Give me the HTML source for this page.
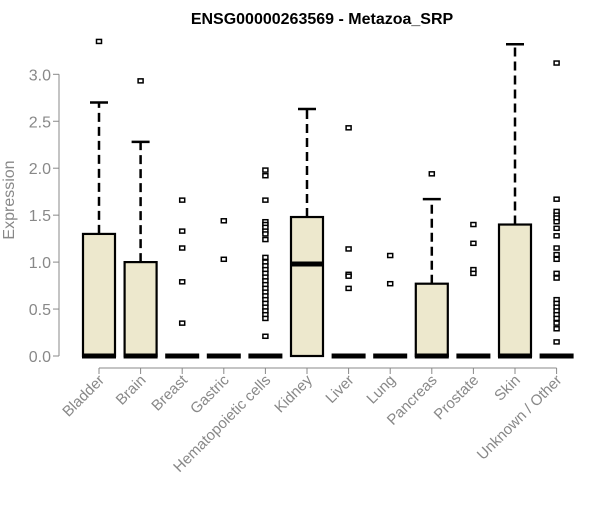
<!DOCTYPE html>
<html><head><meta charset="utf-8"><style>
body{margin:0;background:#fff;}
svg text{font-family:"Liberation Sans",Arial,sans-serif;}
</style></head><body>
<svg id="chart" width="600" height="500" xmlns="http://www.w3.org/2000/svg">
<text x="322" y="24" text-anchor="middle" font-size="16" font-weight="bold">ENSG00000263569 - Metazoa_SRP</text>
<text transform="translate(14,200) rotate(-90)" text-anchor="middle" font-size="16" fill="#888">Expression</text>
<g id="axes"></g><g id="marks"></g>
</svg>
<script>
const categories=["Bladder","Brain","Breast","Gastric","Hematopoietic cells","Kidney","Liver","Lung","Pancreas","Prostate","Skin","Unknown / Other"];
const q1=[0,0,0,0,0,0,0,0,0,0,0,0];
const medians=[0,0,0,0,0,0.98,0,0,0,0,0,0];
const q3=[1.3,1.0,0,0,0,1.48,0,0,0.77,0,1.40,0];
const whiskerHigh=[2.7,2.28,0,0,0,2.63,0,0,1.67,0,3.32,0];
const outliers=[[3.35],[2.93],[1.66,1.33,1.15,0.79,0.35],[1.44,1.03],
[1.98,1.92,1.66,1.43,1.40,1.37,1.33,1.30,1.24,1.05,1.0,0.96,0.92,0.88,0.84,0.80,0.76,0.72,0.68,0.64,0.60,0.56,0.52,0.48,0.44,0.40,0.21],
[],[2.43,1.14,0.87,0.85,0.72],[1.07,0.77],[1.94],[1.40,1.20,0.92,0.88],[],
[3.12,1.67,1.54,1.50,1.47,1.43,1.36,1.28,1.15,1.08,1.03,0.88,0.83,0.60,0.56,0.52,0.48,0.44,0.40,0.35,0.29,0.15]];
const yTicks=[0,0.5,1.0,1.5,2.0,2.5,3.0];
const NS="http://www.w3.org/2000/svg";
const y=v=>356-v*93.9;
const x=i=>99+i*41.6;
function mk(p,t,a){const e=document.createElementNS(NS,t);for(const k in a)e.setAttribute(k,a[k]);p.appendChild(e);return e;}
const ax=document.getElementById('axes'),mg=document.getElementById('marks');
let l=mk(ax,'line',{x1:59,x2:59,y1:y(0),y2:y(3),stroke:'#888'});


yTicks.forEach(t=>{
 mk(ax,'line',{x1:53,x2:59,y1:y(t),y2:y(t),stroke:'#888'});
 const tx=mk(ax,'text',{x:51,y:y(t)+6,'text-anchor':'end','font-size':16,fill:'#888'});
 tx.textContent=t.toFixed(1);
 
 
});
l=mk(ax,'line',{x1:x(0),x2:x(categories.length-1),y1:368,y2:368,stroke:'#888'});


categories.forEach((c,i)=>{
 const cx=x(i);
 mk(ax,'line',{x1:cx,x2:cx,y1:368,y2:374,stroke:'#888'});
 const tx=mk(ax,'text',{transform:`translate(${cx+6},${381}) rotate(-45)`,'text-anchor':'end','font-size':15,fill:'#888'});
 tx.textContent=c;
 
 
 const g=mk(mg,'g',{});
 
 
 if(whiskerHigh[i]>q3[i]){
  mk(g,'line',{x1:cx,x2:cx,y1:y(q3[i]),y2:y(whiskerHigh[i]),stroke:'#000','stroke-width':2.5,'stroke-dasharray':'9,5'});
  mk(g,'line',{x1:cx-9,x2:cx+9,y1:y(whiskerHigh[i]),y2:y(whiskerHigh[i]),stroke:'#000','stroke-width':2.5});
 }
 const h=y(q1[i])-y(q3[i]);
 if(h>0) mk(g,'rect',{x:cx-16,y:y(q3[i]),width:32,height:h,fill:'#ede8cd',stroke:'#000','stroke-width':2.2});
 mk(g,'line',{x1:cx-17,x2:cx+17,y1:y(medians[i]),y2:y(medians[i]),stroke:'#000','stroke-width':5});
 outliers[i].forEach(v=>{
  const p=mk(g,'rect',{x:cx-2.5,y:y(v)-2,width:5,height:4,fill:'#fff',stroke:'#000','stroke-width':1.5});
  
  
 });
});
</script>
</body></html>
